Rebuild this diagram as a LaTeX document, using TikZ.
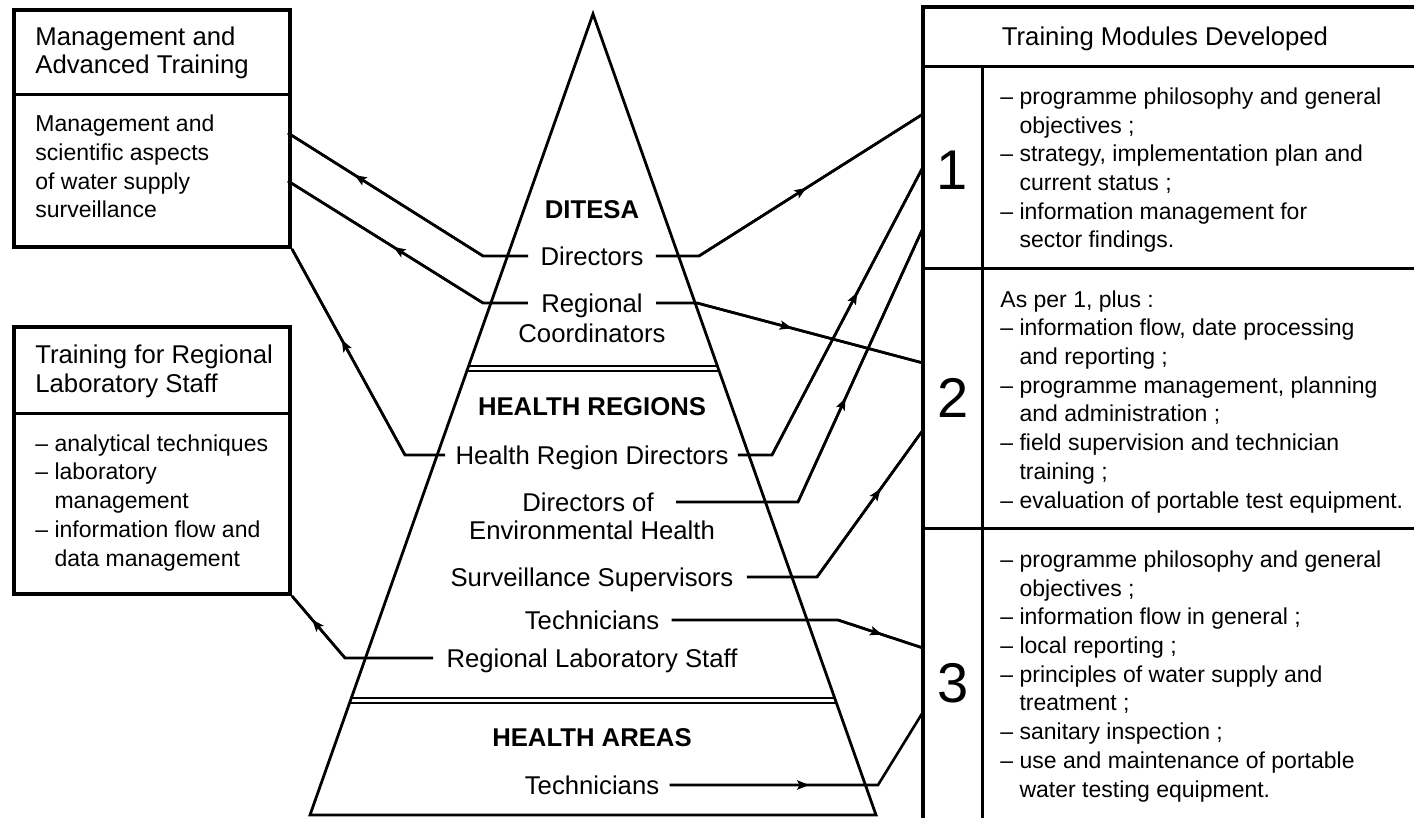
\documentclass[tikz,border=0pt]{standalone}
\usepackage{fontspec}
\setmainfont{Liberation Sans}
\usetikzlibrary{arrows.meta,decorations.markings,calc}
\newcommand\fbig{\fontsize{12.85}{14.35}\selectfont}
\newcommand\fsmall{\fontsize{11.5}{14.35}\selectfont}
\newcommand\fnum{\fontsize{28}{30}\selectfont}
\newcommand\hind{\hphantom{– }}
\begin{document}
\begin{tikzpicture}[x=0.5pt,y=-0.5pt,
  boxline/.style={line width=2pt, line join=miter},
  sepline/.style={line width=1.5pt},
  conn/.style={line width=1.3pt, line join=miter},
  pyr/.style={line width=1.4pt, line join=miter},
  dbl/.style={line width=0.8pt},
  lbl/.style={inner sep=0pt, text height=9pt, text depth=0pt, font=\fbig},
  lblb/.style={lbl, font=\fbig\bfseries},
  hdr/.style={inner sep=0pt, anchor=base west, align=left, font=\fbig},
  body/.style={inner sep=0pt, anchor=base west, align=left, font=\fsmall},
  num/.style={inner sep=0pt, anchor=base, font=\fnum},
  midarrow/.style={postaction={decorate,decoration={markings,mark=at position #1 with {\arrow{Stealth[length=6pt,width=4.6pt,inset=1.2pt]}}}}}
]
\useasboundingbox (0,0) rectangle (1417,818);

% ---------- pyramid ----------
\coordinate (apex) at (593,14);
\coordinate (bl) at (310,815);
\coordinate (br) at (876,815);
\draw[pyr] (bl) -- (apex) -- (br) -- cycle;
\draw[dbl] ($(apex)!0.4395!(bl)$) -- ($(apex)!0.4395!(br)$);
\draw[dbl] ($(apex)!0.4457!(bl)$) -- ($(apex)!0.4457!(br)$);
\draw[dbl] ($(apex)!0.8539!(bl)$) -- ($(apex)!0.8539!(br)$);
\draw[dbl] ($(apex)!0.8602!(bl)$) -- ($(apex)!0.8602!(br)$);

\node[lblb] (ditesa) at (592,210) {DITESA};
\node[lbl] (dir) at (592,256) {Directors};
\node[lbl] (reg) at (592,303) {Regional};
\node[lbl] (coord) at (592,333) {Coordinators};
\node[lblb] (hr) at (592,406) {HEALTH REGIONS};
\node[lbl] (hrd) at (592,455) {Health Region Directors};
\node[lbl] (deh) at (588,502) {Directors of};
\node[lbl] (env) at (592,530) {Environmental Health};
\node[lbl] (ss) at (592,577) {Surveillance Supervisors};
\node[lbl] (tech) at (592,620) {Technicians};
\node[lbl] (rls) at (592,658) {Regional Laboratory Staff};
\node[lblb] (ha) at (592,737) {HEALTH AREAS};
\node[lbl] (techa) at (592,785) {Technicians};

% ---------- left boxes ----------
\node[draw, boxline, inner sep=0pt, anchor=north west, minimum width=138pt, minimum height=118.5pt] (box1) at (12,8) {};
\draw[sepline] (box1.west |- 0,95) -- (box1.east |- 0,95);
\node[hdr] (box1h) at (35,74) {Management and\\Advanced Training};
\node[body] (box1b) at (35,218) {Management and\\scientific aspects\\of water supply\\surveillance};

\node[draw, boxline, inner sep=0pt, anchor=north west, minimum width=138pt, minimum height=133.5pt] (box2) at (12,325) {};
\draw[sepline] (box2.west |- 0,413) -- (box2.east |- 0,413);
\node[hdr] (box2h) at (35,392) {Training for Regional\\Laboratory Staff};
\node[body] (box2b) at (35,566) {– analytical techniques\\– laboratory\\\hind management\\– information flow and\\\hind data management};

% ---------- right box ----------
\draw[boxline] (1414,7) -- (923,7) -- (923,818);
\draw[sepline] (923,67) -- (1414,67);
\draw[sepline] (982,67) -- (982,818);
\draw[sepline] (923,268) -- (1414,268);
\draw[sepline] (923,528) -- (1414,528);
\node[inner sep=0pt, anchor=base, font=\fbig] (rbh) at (1165,46) {Training Modules Developed};
\node[num] (n1) at (952,190) {1};
\node[num] (n2) at (953,417) {2};
\node[num] (n3) at (953,702) {3};
\node[body] (row1) at (1000,248) {– programme philosophy and general\\\hind objectives ;\\– strategy, implementation plan and\\\hind current status ;\\– information management for\\\hind sector findings.};
\node[body] (row2) at (1000,508) {As per 1, plus :\\– information flow, date processing\\\hind and reporting ;\\– programme management, planning\\\hind and administration ;\\– field supervision and technician\\\hind training ;\\– evaluation of portable test equipment.};
\node[body] (row3) at (1000,797) {– programme philosophy and general\\\hind objectives ;\\– information flow in general ;\\– local reporting ;\\– principles of water supply and\\\hind treatment ;\\– sanitary inspection ;\\– use and maintenance of portable\\\hind water testing equipment.};

% ---------- connector points ----------
\coordinate (dirLb) at (483,256);
\coordinate (dirRb) at (699,256);
\coordinate (regLb) at (483,303);
\coordinate (regRb) at (697,303);
\coordinate (hrdLb) at (405,455);
\coordinate (hrdRb) at (772,455);
\coordinate (dehRb) at (798,502);
\coordinate (ssRb) at (817,577);
\coordinate (techRb) at (838,621);
\coordinate (rlsLb) at (345,657);
\coordinate (techaRb) at (878,785);
\coordinate (m1a) at (288,133);
\coordinate (m1b) at (288,181);
\coordinate (t1a) at (923,114);
\coordinate (t1b) at (923,167);
\coordinate (t1c) at (923,228);
\coordinate (t2a) at (923,363);
\coordinate (t2b) at (923,430);
\coordinate (t3a) at (923,648);
\coordinate (t3b) at (923,712);

% ---------- connectors ----------
\draw[conn] ([xshift=-6pt]dir.west) -- (dirLb |- dir.west) -- (m1a);
\draw[conn, midarrow=0.66] (dirLb |- dir.west) -- (m1a);
\draw[conn] ([xshift=6pt]dir.east) -- (dirRb |- dir.east) -- (t1a);
\draw[conn, midarrow=0.48] (dirRb |- dir.east) -- (t1a);

\draw[conn] ([xshift=-6.5pt]reg.west) -- (regLb |- reg.west) -- (m1b);
\draw[conn, midarrow=0.46] (regLb |- reg.west) -- (m1b);
\draw[conn] ([xshift=6.5pt]reg.east) -- (regRb |- reg.east) -- (t2a);
\draw[conn, midarrow=0.42] (regRb |- reg.east) -- (t2a);

\draw[conn] ([xshift=-5pt]hrd.west) -- (hrdLb |- hrd.west) -- (box1.south east);
\draw[conn, midarrow=0.56] (hrdLb |- hrd.west) -- (box1.south east);
\draw[conn] ([xshift=4.5pt]hrd.east) -- (hrdRb |- hrd.east) -- (t1b);
\draw[conn, midarrow=0.565] (hrdRb |- hrd.east) -- (t1b);

\draw[conn] ([xshift=11pt]deh.east) -- (dehRb |- deh.east) -- (t1c);
\draw[conn, midarrow=0.38] (dehRb |- deh.east) -- (t1c);

\draw[conn] ([xshift=6.5pt]ss.east) -- (ssRb |- ss.east) -- (t2b);
\draw[conn, midarrow=0.6] (ssRb |- ss.east) -- (t2b);

\draw[conn] ([xshift=6pt]tech.east) -- (techRb |- tech.east) -- (t3a);
\draw[conn, midarrow=0.52] (techRb |- tech.east) -- (t3a);

\draw[conn] ([xshift=-6.5pt]rls.west) -- (rlsLb |- rls.west) -- (box2.south east);
\draw[conn, midarrow=0.62] (rlsLb |- rls.west) -- (box2.south east);

\draw[conn] ([xshift=5pt]techa.east) -- (techaRb |- techa.east) -- (t3b);
\draw[conn, midarrow=0.67] ([xshift=5pt]techa.east) -- (techaRb |- techa.east);
\end{tikzpicture}
\end{document}
